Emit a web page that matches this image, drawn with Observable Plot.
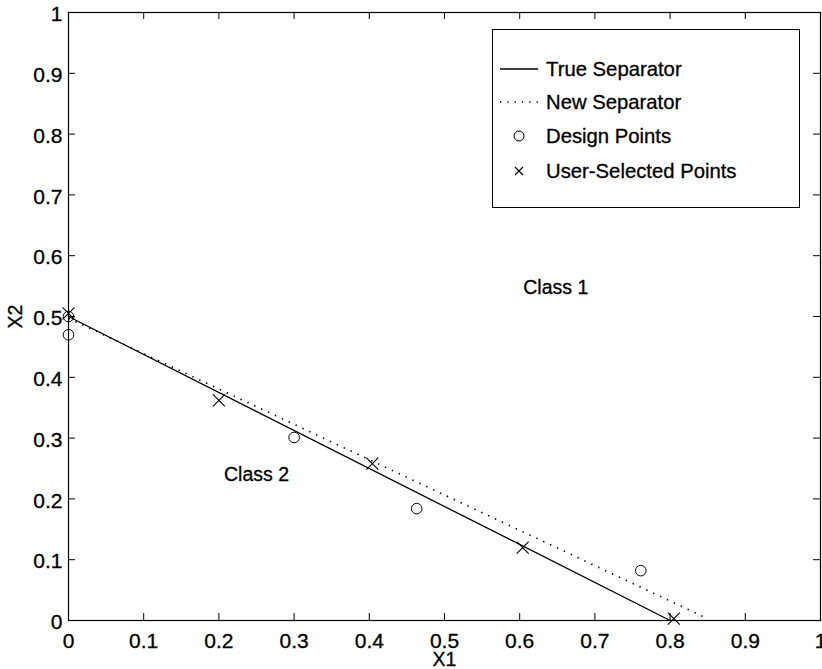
<!DOCTYPE html>
<html>
<head>
<meta charset="utf-8">
<script src="https://cdn.jsdelivr.net/npm/d3@7"></script>
<script src="https://cdn.jsdelivr.net/npm/@observablehq/plot@0.6"></script>
<style>
  body { margin: 0; background: #fff; }
  #chart { position: relative; width: 822px; height: 669px; font-family: "Liberation Sans", Arial, Helvetica, sans-serif; color: #000; }
  #chart svg text { stroke: #000; stroke-width: 0.3px; }
  #chart svg g[aria-label$="tick label"], #chart svg g[aria-label$="tick label"] text { font-size: 21px !important; }
  .legend { position: absolute; left: 492px; top: 29px; width: 306px; height: 177px; border: 1px solid #000; background: #fff; }
  .row { position: absolute; left: 0; height: 26px; display: flex; align-items: center; font-size: 20.3px; white-space: nowrap; -webkit-text-stroke: 0.3px #000; }
  .row svg { flex: none; margin-left: 6px; margin-right: 7px; }
</style>
</head>
<body>
<div id="chart"></div>
<script>
// Separator lines (endpoints)
const trueSepX = [0, 0.8];
const trueSepY = [0.5, 0];
const newSepX = [0, 0.85];
const newSepY = [0.497, 0.003];

// Design points (circles)
const designX = [0, 0, 0.3, 0.463, 0.761];
const designY = [0.5, 0.47, 0.301, 0.184, 0.082];

// User-selected points (crosses)
const userX = [0, 0.2, 0.404, 0.604, 0.805];
const userY = [0.505, 0.362, 0.258, 0.12, 0.003];

// Region labels
const classNames = ["Class 1", "Class 2"];
const classX = [0.648, 0.25];
const classY = [0.548, 0.24];

// Axis ticks
const xTicks = [0, 0.1, 0.2, 0.3, 0.4, 0.5, 0.6, 0.7, 0.8, 0.9, 1];
const yTicks = [0, 0.1, 0.2, 0.3, 0.4, 0.5, 0.6, 0.7, 0.8, 0.9, 1];
const xLabel = "X1";
const yLabel = "X2";

const legendLabels = ["True Separator", "New Separator", "Design Points", "User-Selected Points"];

const W = 822, H = 669;
const mL = 68, mR = 2, mT = 12, mB = 49;
const innerW = W - mL - mR, innerH = H - mT - mB;
const tickLen = 7;

const trueSep = trueSepX.map((x, i) => ({x, y: trueSepY[i]}));
const newSep = newSepX.map((x, i) => ({x, y: newSepY[i]}));
const design = designX.map((x, i) => ({x, y: designY[i]}));
const user = userX.map((x, i) => ({x, y: userY[i]}));
const classes = classNames.map((name, i) => ({name, x: classX[i], y: classY[i]}));

const chart = Plot.plot({
  width: W,
  height: H,
  marginLeft: mL,
  marginRight: mR,
  marginTop: mT,
  marginBottom: mB,
  style: { fontFamily: '"Liberation Sans", Arial, Helvetica, sans-serif', fontSize: "21px", background: "white", color: "black", overflow: "visible" },
  x: { domain: [0, 1] },
  y: { domain: [0, 1] },
  marks: [
    Plot.axisX(xTicks, { anchor: "bottom", tickSize: 0, tickPadding: 13, tickFormat: d => String(d), label: null }),
    Plot.axisY(yTicks, { anchor: "left", tickSize: 0, tickPadding: 6, dy: 2, tickFormat: d => String(d), label: null }),
    // inward tick marks on all four sides
    Plot.ruleX(xTicks, { x: d => d, insetTop: innerH - tickLen, stroke: "black" }),
    Plot.ruleX(xTicks, { x: d => d, insetBottom: innerH - tickLen, stroke: "black" }),
    Plot.ruleY(yTicks, { y: d => d, insetRight: innerW - tickLen, stroke: "black" }),
    Plot.ruleY(yTicks, { y: d => d, insetLeft: innerW - tickLen, stroke: "black" }),
    Plot.frame({ stroke: "black", strokeWidth: 1.2 }),
    Plot.line(trueSep, { x: "x", y: "y", stroke: "black", strokeWidth: 1.3 }),
    Plot.line(newSep, { x: "x", y: "y", stroke: "black", strokeWidth: 1.6, strokeDasharray: "1.4,6.2", strokeLinecap: "butt" }),
    Plot.dot(design, { x: "x", y: "y", r: 5.3, stroke: "black", strokeWidth: 1, fill: "none" }),
    Plot.dot(user, { x: "x", y: "y", symbol: "times", r: 5.5, stroke: "black", strokeWidth: 1.1 }),
    Plot.text(classes, { x: "x", y: "y", text: "name", fontSize: 19.5, fill: "black" }),
    Plot.text([xLabel], { frameAnchor: "bottom", dy: 39, lineAnchor: "middle", textAnchor: "middle", text: d => d, fontSize: 19.5, fill: "black" }),
    Plot.text([yLabel], { frameAnchor: "left", dx: -53, rotate: -90, lineAnchor: "middle", textAnchor: "middle", text: d => d, fontSize: 19.5, fill: "black" })
  ]
});

const root = document.getElementById("chart");
root.appendChild(chart);

// Legend box inside the axes
const legend = document.createElement("div");
legend.className = "legend";
const rowCenters = [39, 72, 106, 141];
const samples = [
  '<line x1="1" y1="10" x2="39" y2="10" stroke="black" stroke-width="1.3"/>',
  '<line x1="1" y1="10" x2="39" y2="10" stroke="black" stroke-width="1.4" stroke-dasharray="1.3,6"/>',
  '<circle cx="20" cy="10" r="5" fill="none" stroke="black" stroke-width="1"/>',
  '<path d="M16,6L24,14M16,14L24,6" stroke="black" stroke-width="1.1"/>'
];
legendLabels.forEach((label, i) => {
  const row = document.createElement("div");
  row.className = "row";
  row.style.top = (rowCenters[i] - 13) + "px";
  row.innerHTML = `<svg width="40" height="20">${samples[i]}</svg><span></span>`;
  row.querySelector("span").textContent = label;
  legend.appendChild(row);
});
root.appendChild(legend);
</script>
</body>
</html>
